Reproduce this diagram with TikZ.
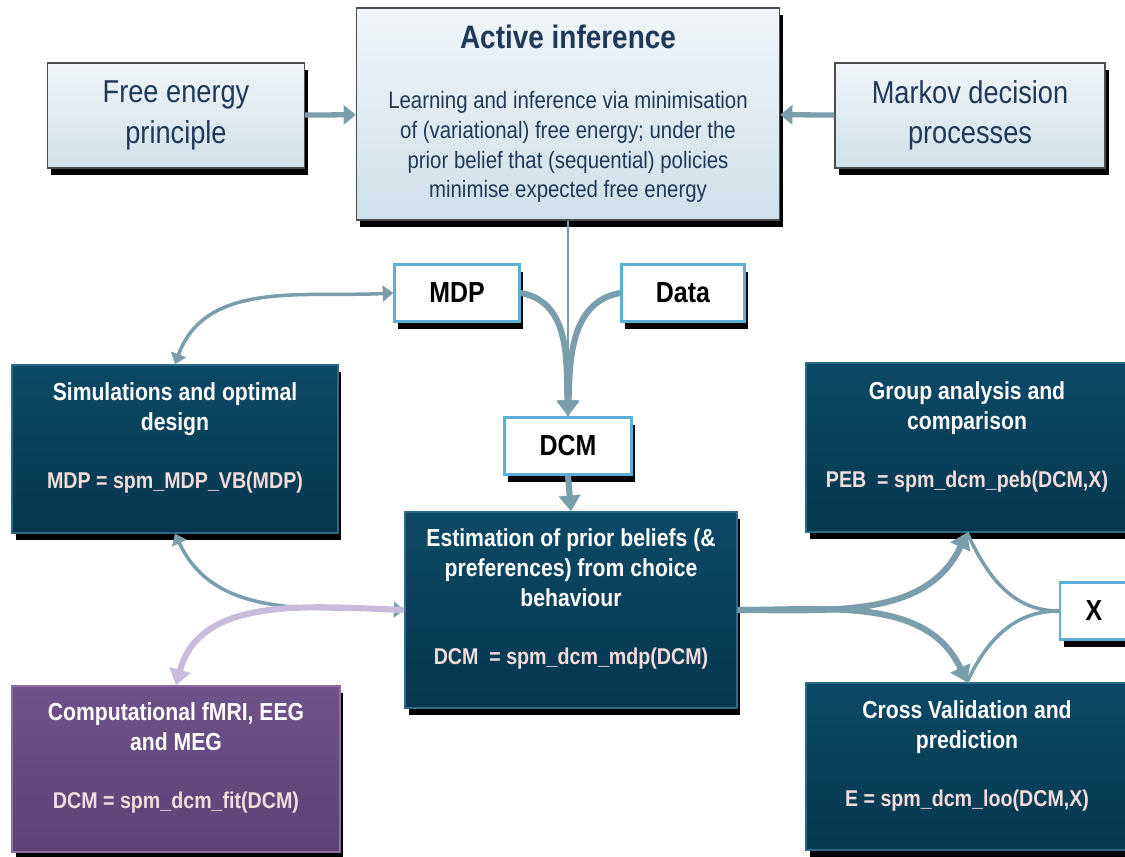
\documentclass[tikz,border=0pt]{standalone}
\usepackage{fontspec}
\setmainfont{Liberation Sans}[FakeStretch=0.86]
\usetikzlibrary{positioning,shadows,arrows.meta}

\definecolor{paletop}{HTML}{F0F6FA}
\definecolor{palebot}{HTML}{CFE0EA}
\definecolor{paleink}{HTML}{1F3A58}
\definecolor{deeptop}{HTML}{0C4966}
\definecolor{deepbot}{HTML}{06374E}
\definecolor{deepedge}{HTML}{2A6A86}
\definecolor{plumtop}{HTML}{6E5289}
\definecolor{plumbot}{HTML}{5C4276}
\definecolor{plumedge}{HTML}{8A70A4}
\definecolor{codepink}{HTML}{F2DCDC}
\definecolor{tagedge}{HTML}{5AB0D4}
\definecolor{wire}{HTML}{7A9EAB}
\definecolor{lilac}{HTML}{C9BBDC}

\tikzset{
  boxshadow/.style={general shadow={fill=black, shadow xshift=2pt, shadow yshift=-4pt}},
  palebox/.style={boxshadow, draw=gray!60!black, thick, top color=paletop,
    bottom color=palebot, text=paleink, align=center, inner sep=2pt},
  deepbox/.style={boxshadow, draw=deepedge, thick, top color=deeptop,
    bottom color=deepbot, text=white, align=center, inner sep=2pt,
    font=\fontsize{14}{17}\selectfont\bfseries},
  plumbox/.style={deepbox, draw=plumedge, top color=plumtop, bottom color=plumbot},
  tagbox/.style={boxshadow, draw=tagedge, line width=1.4pt, fill=white,
    minimum height=1.14cm, font=\fontsize{16.5}{19}\selectfont\bfseries},
  fatwire/.style={draw=wire, line width=3.5pt, -{Triangle[length=9pt,width=12pt]}},
  twoway/.style={draw=wire, line width=2pt, {Triangle[length=6pt,width=9pt]}-{Triangle[length=6pt,width=9pt]}},
}
\newcommand{\code}[1]{{\fontsize{13}{17}\selectfont\color{codepink}#1}}

\begin{document}
\begin{tikzpicture}[x=0.02cm,y=0.02cm]
\useasboundingbox (0,0) rectangle (1125,857);

% top row
\node[palebox, minimum width=8.46cm, minimum height=4.24cm,
  font=\fontsize{13.5}{17}\selectfont] (active) at (568,743)
  {{\fontsize{18.5}{22}\selectfont\bfseries Active inference}\\[17pt]
   Learning and inference via minimisation\\
   of (variational) free energy; under the\\
   prior belief that (sequential) policies\\
   minimise expected free energy};
\node[palebox, minimum width=5.14cm, minimum height=2.1cm,
  font=\fontsize{18}{23}\selectfont] (fep) at (176,741.5) {Free energy\\principle};
\node[palebox, minimum width=5.4cm, minimum height=2.1cm,
  font=\fontsize{18}{23}\selectfont] (markov) at (970,741.5) {Markov decision\\processes};

% small tags
\node[tagbox, minimum width=2.5cm] (mdp) at (457,564) {MDP};
\node[tagbox, minimum width=2.46cm] (data) at (683,564) {Data};
\node[tagbox, minimum width=2.54cm] (dcm) at (568,411) {DCM};
\node[tagbox, minimum width=1.36cm] (x) at (1094,246) {X};

% dark boxes
\node[deepbox, minimum width=6.52cm, minimum height=3.36cm] (sim) at (175,408)
  {Simulations and optimal\\design\\[16pt]\code{MDP = spm\_MDP\_VB(MDP)}\\[-2pt]\mbox{}};
\node[deepbox, minimum width=6.64cm, minimum height=3.92cm] (est) at (571,247)
  {Estimation of prior beliefs (\&\\preferences) from choice\\behaviour\\[16pt]
   \code{DCM\ \ = spm\_dcm\_mdp(DCM)}\\[-2pt]\mbox{}};
\node[deepbox, minimum width=6.44cm, minimum height=3.38cm] (group) at (967,409.5)
  {Group analysis and\\comparison\\[16pt]\code{PEB\ \ = spm\_dcm\_peb(DCM,X)}\\[-2pt]\mbox{}};
\node[deepbox, minimum width=6.44cm, minimum height=3.34cm] (cross) at (967,90.5)
  {Cross Validation and\\prediction\\[16pt]\code{E = spm\_dcm\_loo(DCM,X)}\\[-2pt]\mbox{}};
\node[plumbox, minimum width=6.56cm, minimum height=3.32cm] (comp) at (176,88)
  {Computational fMRI, EEG\\and MEG\\[16pt]\code{DCM = spm\_dcm\_fit(DCM)}\\[-2pt]\mbox{}};

% connectors
\draw[draw=wire, line width=3pt, -{Triangle[length=7pt,width=11pt]}] (fep) -- (active);
\draw[draw=wire, line width=3pt, -{Triangle[length=7pt,width=11pt]}] (markov) -- (active);
\draw[draw=wire, line width=1.5pt] (active.south) -- (dcm.north);
\draw[fatwire] (mdp.east) to[out=-10,in=92] (dcm.north);
\draw[fatwire] (data.west) to[out=190,in=88] (dcm.north);
\draw[fatwire] (dcm.south) -- (est.north);
\draw[twoway] (sim.north) to[out=70,in=183] (mdp.west);
\draw[twoway] (sim.south) to[out=-65,in=178] (est.west);
\draw[draw=lilac, line width=3.5pt, -{Triangle[length=9pt,width=12pt]}]
  (est.west) to[out=178,in=75] (comp.north);
\draw[draw=wire, line width=2pt] (x.west) to[out=180,in=-65] (group.south);
\draw[draw=wire, line width=2pt] (x.west) to[out=180,in=65] (cross.north);
\draw[fatwire] (est.east) to[out=0,in=-115] (group.south);
\draw[fatwire] (est.east) to[out=0,in=115] (cross.north);
\end{tikzpicture}
\end{document}
